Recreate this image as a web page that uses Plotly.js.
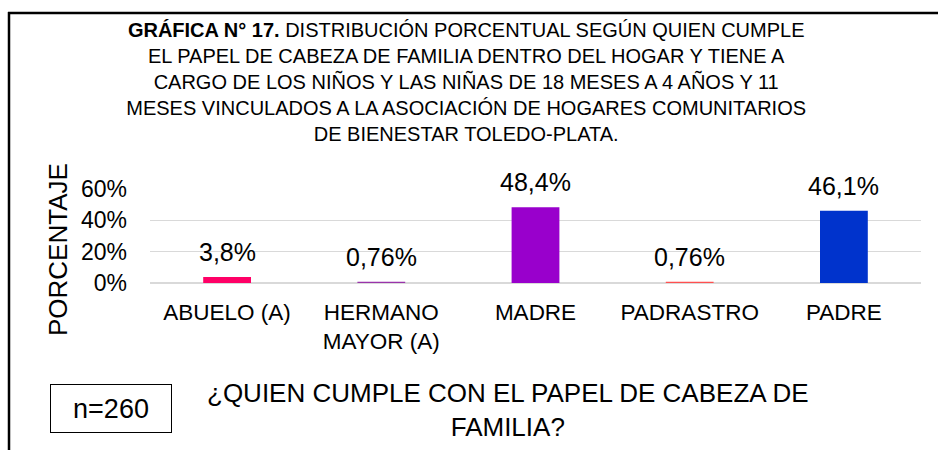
<!DOCTYPE html>
<html><head><meta charset="utf-8">
<script src="https://cdn.plot.ly/plotly-3.0.1.min.js"></script>
<style>body{margin:0;background:#fff}#c{width:938px;height:450px}</style>
</head><body><div id="c"></div>
<script>
const categories = ["ABUELO (A)", "HERMANO<br>MAYOR (A)", "MADRE", "PADRASTRO", "PADRE"];
const values = [3.8, 0.76, 48.4, 0.76, 46.1];
const valueLabels = ["3,8%", "0,76%", "48,4%", "0,76%", "46,1%"];
const colors = ["#FF0066", "#9933AA", "#9900CC", "#FF5050", "#0033CC"];
const yTicks = [0, 20, 40, 60];
const yTickLabels = ["0%", "20%", "40%", "60%"];
const sampleNote = "n=260";
const xTitle = "¿QUIEN CUMPLE CON EL PAPEL DE CABEZA DE<br>FAMILIA?";
const yTitle = "PORCENTAJE";

const L = 150, R = 921, T = 189, B = 283, W = 938, H = 450;
const px = x => (x - L) / (R - L);
const py = y => (B - y) / (B - T);
const FONT = "Liberation Sans, Arial, sans-serif";

const trace = {
  type: "bar", x: categories, y: values,
  marker: {color: colors},
  hoverinfo: "none", cliponaxis: false
};

const annotations = categories.map((c, i) => ({
  x: c, y: values[i], xref: "x", yref: "y", text: valueLabels[i],
  showarrow: false, yanchor: "bottom", yshift: 9,
  font: {family: FONT, size: 25, color: "#000"}
}));
annotations.push({
  xref: "paper", yref: "paper", x: px(110.5), y: py(408), text: sampleNote,
  showarrow: false, xanchor: "center", yanchor: "middle",
  font: {family: FONT, size: 27, color: "#000"},
  bordercolor: "#000", borderwidth: 1, borderpad: 0, bgcolor: "#fff",
  width: 120, height: 47
});
annotations.push({
  xref: "paper", yref: "paper", x: px(508), y: py(410), text: xTitle,
  showarrow: false, xanchor: "center", yanchor: "middle",
  font: {family: FONT, size: 26, color: "#000"}
});
annotations.push({
  xref: "paper", yref: "paper", x: px(58), y: py(250), text: yTitle,
  showarrow: false, xanchor: "center", yanchor: "middle", textangle: -90,
  font: {family: FONT, size: 26, color: "#000"}
});

const layout = {
  width: W, height: H,
  margin: {l: L, r: W - R, t: T, b: H - B, pad: 0},
  paper_bgcolor: "#fff", plot_bgcolor: "#fff",
  showlegend: false, bargap: 0.69,
  title: {
    text: "<b>GRÁFICA N° 17.</b> DISTRIBUCIÓN PORCENTUAL SEGÚN QUIEN CUMPLE<br>EL PAPEL DE CABEZA DE FAMILIA DENTRO DEL HOGAR Y TIENE A<br>CARGO DE LOS NIÑOS Y LAS NIÑAS DE 18 MESES A 4 AÑOS Y 11<br>MESES VINCULADOS A LA ASOCIACIÓN DE HOGARES COMUNITARIOS<br>DE BIENESTAR TOLEDO-PLATA.",
    xref: "container", yref: "container", x: 0.497, y: 1 - 36.5 / H,
    xanchor: "center", yanchor: "middle",
    font: {family: FONT, size: 20, color: "#000"}
  },
  xaxis: {
    type: "category", showgrid: false, showline: false, zeroline: false,
    ticks: "", ticklabelstandoff: 13, tickfont: {family: FONT, size: 22.5, color: "#000"}
  },
  yaxis: {
    range: [0, 60], tickvals: yTicks, ticktext: yTickLabels,
    showgrid: true, gridcolor: "#D9D9D9", gridwidth: 1.5,
    zeroline: true, zerolinecolor: "#D9D9D9", zerolinewidth: 1.5,
    showline: false, ticks: "", ticklabelstandoff: 22,
    tickfont: {family: FONT, size: 23, color: "#000"}
  },
  annotations: annotations,
  shapes: [
    {type: "line", xref: "paper", yref: "paper", x0: px(9), x1: px(9), y0: py(12), y1: py(452),
     line: {color: "#000", width: 2.5}},
    {type: "line", xref: "paper", yref: "paper", x0: px(8), x1: px(945), y0: py(13), y1: py(13),
     line: {color: "#000", width: 2.5}}
  ]
};

Plotly.newPlot("c", [trace], layout, {displayModeBar: false, staticPlot: true});
</script></body></html>
